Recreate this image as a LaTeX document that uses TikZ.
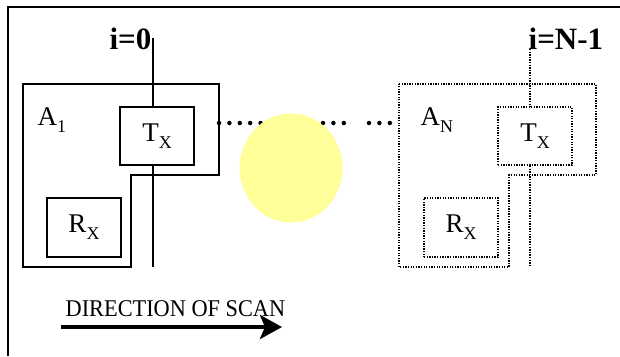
\documentclass[tikz,border=0pt]{standalone}
\usepackage{fontspec}
\setmainfont{Liberation Serif}
\usetikzlibrary{arrows.meta}

\definecolor{paleyellow}{RGB}{255,255,153}
\newcommand{\lowsub}[1]{\raisebox{-7pt}{\fontsize{18}{18}\selectfont #1}}

\begin{document}
\begin{tikzpicture}[x=1pt,y=-1pt,line width=1.4pt,
  every node/.style={font=\fontsize{27}{29}\selectfont,inner sep=0pt},
  unitbox/.style={draw,fill=white,minimum width=74pt,minimum height=58pt},
  faint/.style={dash pattern=on 1.3pt off 1.3pt},
  scanline/.style={line width=1.2pt},
  index/.style={font=\fontsize{31}{33}\selectfont\bfseries},
  chain/.style={line width=4.5pt,line cap=round,dash pattern=on 0pt off 10.4pt}]

\useasboundingbox (0,0) rectangle (620,356);

% Frame
\draw[line width=1.5pt] (8,356)--(8,7)--(620,7);

% Scan lines
\coordinate (top0) at (153,38);
\coordinate (bot0) at (153,267);
\coordinate (topN) at (530,49);
\coordinate (botN) at (530,265);
\draw[scanline] (top0)--(bot0);
\draw[scanline,faint] (topN)--(botN);
\node[index,anchor=base east] (i0) at (152,49) {i=0};
\node[index,anchor=base west] (iN) at (528,49) {i=N-1};

% First array A_1
\draw (23,84)--(219,84)--(219,175)--(131,175)--(131,267)--(23,267)--cycle;
\node[anchor=base west] (a1) at (37,125) {A\lowsub{1}};
\node[unitbox] (tx1) at (157,136) {T\lowsub{X}};
\node[unitbox,minimum height=59pt] (rx1) at (84,227.5) {R\lowsub{X}};

% Last array A_N
\draw[faint] (399,84)--(596,84)--(596,175)--(509,175)--(509,267)--(399,267)--cycle;
\node[anchor=base west] (aN) at (420,125) {A\lowsub{N}};
\node[unitbox,faint] (txN) at (535,136) {T\lowsub{X}};
\node[unitbox,faint,minimum height=59pt] (rxN) at (461,227.5) {R\lowsub{X}};

% Chain of arrays in between
\coordinate (c1) at (219,123);
\coordinate (c2) at (353,123);
\coordinate (c3) at (369,123);
\coordinate (c4) at (391,123);
\draw[chain] (c1)--(c2);
\draw[chain] (c3)--(c4);

% Scan spot
\fill[paleyellow] (291,168) ellipse [x radius=51.5, y radius=54.5];

% Direction of scan
\coordinate (s0) at (61,327);
\coordinate (s1) at (282,327);
\draw[line width=4pt,-{Stealth[length=22pt,width=24pt,inset=5pt]}] (s0)--(s1);
\node[anchor=base west,font=\fontsize{24}{26}\selectfont] (dir) at (65,316) {\scalebox{0.93}[1]{DIRECTION OF SCAN}};

\end{tikzpicture}
\end{document}
